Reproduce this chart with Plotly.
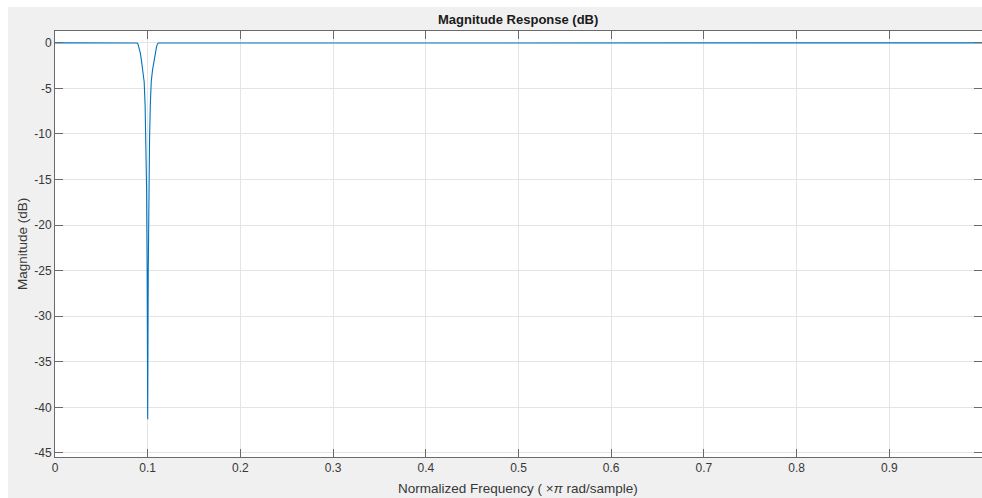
import plotly.graph_objects as go

# Magnitude response of the notch filter (normalized frequency, x pi rad/sample)
freq = [0.0, 0.0885, 0.0895, 0.0905, 0.0920, 0.0932, 0.0948, 0.0962, 0.0972,
        0.0980, 0.0988, 0.0994, 0.0997, 0.1,
        0.1003, 0.1006, 0.1012, 0.1020, 0.1028, 0.1038, 0.1052, 0.1068,
        0.1080, 0.1095, 0.1105, 0.1115, 1.0]
mag_db = [0.0, -0.02, -0.12, -0.45, -1.1, -1.9, -3.0, -4.3, -6.8,
          -10.6, -16.0, -25.0, -32.0, -41.3,
          -32.0, -25.0, -16.0, -10.6, -6.8, -4.3, -3.0, -1.9,
          -1.1, -0.45, -0.12, -0.02, 0.0]

x_ticks = [0, 0.1, 0.2, 0.3, 0.4, 0.5, 0.6, 0.7, 0.8, 0.9]
x_tick_text = ["0", "0.1", "0.2", "0.3", "0.4", "0.5", "0.6", "0.7", "0.8", "0.9"]
y_ticks = [0, -5, -10, -15, -20, -25, -30, -35, -40, -45]
y_tick_text = ["0", "-5", "-10", "-15", "-20", "-25", "-30", "-35", "-40", "-45"]

W, H = 982, 498
ML, MR, MT, MB = 55, 0, 31, 41
PW, PH = W - ML - MR, H - MT - MB

FONT = "Liberation Sans, Arial, Helvetica, sans-serif"
AX = "#6a6a6a"
TXT = "#383838"
GRID = "#e4e4e4"


def px_x(p):
    return (p - ML) / PW


def px_y(p):
    return (H - MB - p) / PH


fig = go.Figure()
fig.add_trace(go.Scatter(
    x=freq, y=mag_db, mode="lines",
    line=dict(color="#0072BD", width=1.1),
    hoverinfo="skip", showlegend=False,
))

axis_common = dict(
    showline=True, linecolor=AX, linewidth=1, mirror="ticks",
    ticks="inside", ticklen=8, tickcolor=AX, tickwidth=1,
    showgrid=True, gridcolor=GRID, gridwidth=1, zeroline=False,
    tickfont=dict(family=FONT, size=12, color=TXT),
)

fig.update_layout(
    width=W, height=H,
    margin=dict(l=ML, r=MR, t=MT, b=MB, pad=0),
    paper_bgcolor="#f0f0f0", plot_bgcolor="#ffffff",
    xaxis=dict(range=[0, 1.0], tickvals=x_ticks, ticktext=x_tick_text, **axis_common),
    yaxis=dict(range=[-45.45, 1.3], tickvals=y_ticks, ticktext=y_tick_text, **axis_common),
    shapes=[
        # white frame strips along the left and top edges of the window
        dict(type="rect", xref="paper", yref="paper", layer="below",
             x0=px_x(0), x1=px_x(8), y0=px_y(H), y1=px_y(0),
             fillcolor="#ffffff", line=dict(width=0)),
        dict(type="rect", xref="paper", yref="paper", layer="below",
             x0=px_x(0), x1=px_x(W), y0=px_y(7), y1=px_y(0),
             fillcolor="#ffffff", line=dict(width=0)),
    ],
    annotations=[
        dict(text="<b>Magnitude Response (dB)</b>", xref="paper", yref="paper",
             x=px_x(518), y=px_y(19), xanchor="center", yanchor="middle",
             showarrow=False, font=dict(family=FONT, size=13, color="#1a1a1a")),
        dict(text="Normalized Frequency ( \u00d7<i>\u03c0</i> rad/sample)", xref="paper", yref="paper",
             x=px_x(518), y=px_y(488), xanchor="center", yanchor="middle",
             showarrow=False, font=dict(family=FONT, size=13.5, color=TXT)),
        dict(text="Magnitude (dB)", xref="paper", yref="paper", textangle=-90,
             x=px_x(22), y=px_y(244), xanchor="center", yanchor="middle",
             showarrow=False, font=dict(family=FONT, size=13.5, color=TXT)),
    ],
)

fig.write_html("out.html", config={"displayModeBar": False, "staticPlot": True})
